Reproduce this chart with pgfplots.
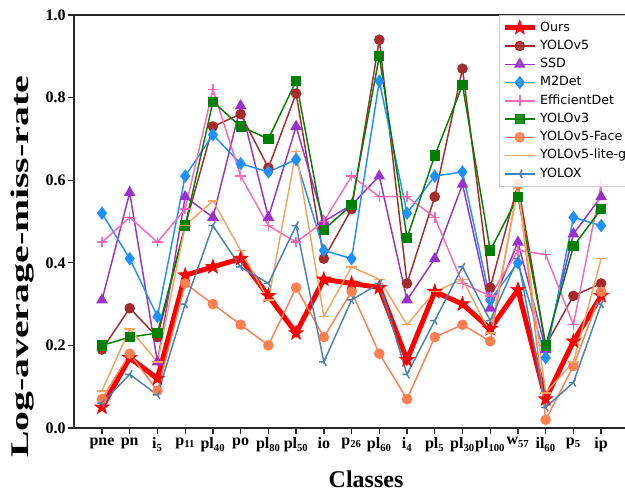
\documentclass[border=0pt]{standalone}
\usepackage{fontspec}
\setmainfont{Liberation Serif}
\newfontfamily\legfont{DejaVu Sans}
\usepackage{pgfplots}
\usepackage{pgfplotstable}
\pgfplotsset{compat=1.18}
\definecolor{cbrown}{HTML}{A52A2A}
\definecolor{corchid}{HTML}{9932CC}
\definecolor{cdodger}{HTML}{1E90FF}
\definecolor{chotpink}{HTML}{FF69B4}
\definecolor{cgreen}{HTML}{008000}
\definecolor{ccoral}{HTML}{FF7F50}
\definecolor{csandy}{HTML}{F4A460}
\definecolor{csteel}{HTML}{4682B4}
\pgfdeclareplotmark{fstar}{%
  \pgfpathmoveto{\pgfpointpolar{90}{\pgfplotmarksize}}%
  \pgfpathlineto{\pgfpointpolar{126}{0.4\pgfplotmarksize}}%
  \pgfpathlineto{\pgfpointpolar{162}{\pgfplotmarksize}}%
  \pgfpathlineto{\pgfpointpolar{198}{0.4\pgfplotmarksize}}%
  \pgfpathlineto{\pgfpointpolar{234}{\pgfplotmarksize}}%
  \pgfpathlineto{\pgfpointpolar{270}{0.4\pgfplotmarksize}}%
  \pgfpathlineto{\pgfpointpolar{306}{\pgfplotmarksize}}%
  \pgfpathlineto{\pgfpointpolar{342}{0.4\pgfplotmarksize}}%
  \pgfpathlineto{\pgfpointpolar{18}{\pgfplotmarksize}}%
  \pgfpathlineto{\pgfpointpolar{54}{0.4\pgfplotmarksize}}%
  \pgfpathclose
  \pgfusepathqfillstroke}
\pgfplotstableread{
x ours yolov5 ssd m2det effdet yolov3 face lite yolox
0 0.05 0.19 0.31 0.52 0.45 0.20 0.07 0.09 0.06
1 0.17 0.29 0.57 0.41 0.51 0.22 0.18 0.24 0.13
2 0.12 0.22 0.16 0.27 0.45 0.23 0.09 0.16 0.08
3 0.37 0.49 0.56 0.61 0.53 0.49 0.35 0.49 0.30
4 0.39 0.73 0.51 0.71 0.82 0.79 0.30 0.55 0.49
5 0.41 0.76 0.78 0.64 0.61 0.73 0.25 0.43 0.39
6 0.32 0.63 0.51 0.62 0.49 0.70 0.20 0.31 0.35
7 0.23 0.81 0.73 0.65 0.45 0.84 0.34 0.67 0.49
8 0.36 0.41 0.50 0.43 0.50 0.48 0.22 0.27 0.16
9 0.35 0.53 0.54 0.41 0.61 0.54 0.33 0.39 0.31
10 0.34 0.94 0.61 0.84 0.56 0.90 0.18 0.36 0.35
11 0.165 0.35 0.31 0.52 0.56 0.46 0.07 0.25 0.13
12 0.33 0.56 0.41 0.61 0.51 0.66 0.22 0.33 0.26
13 0.30 0.87 0.59 0.62 0.35 0.83 0.25 0.36 0.39
14 0.24 0.34 0.29 0.31 0.32 0.43 0.21 0.23 0.26
15 0.335 0.59 0.45 0.40 0.43 0.56 0.59 0.58 0.41
16 0.07 0.20 0.19 0.17 0.42 0.20 0.02 0.085 0.05
17 0.21 0.32 0.47 0.51 0.25 0.44 0.15 0.16 0.11
18 0.32 0.35 0.56 0.49 0.59 0.53 0.33 0.41 0.30
}\datatable
\begin{document}
\begin{tikzpicture}
\useasboundingbox (-55.5pt,-51pt) rectangle (413.25pt,321pt);
\begin{axis}[
  at={(0,0)}, anchor=south west,
  scale only axis, width=413.25pt, height=309.75pt,
  xmin=-1.01, xmax=18.86, ymin=0, ymax=1,
  axis x line*=bottom, axis y line*=left,
  axis line style={black!85, line width=1.1pt},
  tick align=outside, major tick length=4.5pt,
  every tick/.style={black!85, line width=1pt},
  xtick={0,...,18},
  xticklabels={pne,pn,i\textsubscript{5},p\textsubscript{11},pl\textsubscript{40},po,pl\textsubscript{80},pl\textsubscript{50},io,p\textsubscript{26},pl\textsubscript{60},i\textsubscript{4},pl\textsubscript{5},pl\textsubscript{30},pl\textsubscript{100},w\textsubscript{57},il\textsubscript{60},p\textsubscript{5},ip},
  ytick={0,0.2,0.4,0.6,0.8,1.0},
  yticklabel style={/pgf/number format/fixed, /pgf/number format/fixed zerofill, /pgf/number format/precision=1, /pgf/number format/assume math mode=true},
  tick label style={font=\fontsize{12}{14}\selectfont\bfseries},
  xticklabel style={inner sep=1pt, yshift=-1.5pt},
  yticklabel style={inner sep=1.5pt},
  xlabel={Classes}, ylabel={Log-average-miss-rate},
  xlabel style={font=\fontsize{18}{20}\selectfont\bfseries, at={(axis description cs:0.53,0)}, anchor=base, yshift=-45pt},
  ylabel style={font=\fontsize{19}{21}\selectfont\bfseries, at={(axis description cs:0,0.39)}, anchor=base, yshift=34pt, xscale=1.57},
  legend style={at={(0.772,1)}, anchor=north west, draw=black!20, fill=white, fill opacity=0.85, text opacity=1,
    font=\legfont\fontsize{9.5}{11}\selectfont, inner xsep=2pt, inner ysep=2.5pt, row sep=0pt,
    nodes={inner sep=2.1pt, text height=7.3pt, text depth=2.2pt, anchor=west}},
  legend cell align=left,
  legend image code/.code={\draw[mark repeat=2,mark phase=2,#1] plot coordinates {(0pt,0pt) (11.25pt,0pt) (22.5pt,0pt)};},
  every axis plot/.append style={line width=1.1pt},
]
\addplot[color=red, line width=3.75pt, mark=fstar, mark size=5.5pt, mark options={solid, line width=0.6pt}] table[x=x,y=ours] {\datatable};
\addlegendentry{Ours}
\addplot[color=cbrown, mark=*, mark size=3.4pt] table[x=x,y=yolov5] {\datatable};
\addlegendentry{YOLOv5}
\addplot[color=corchid, mark=triangle*, mark size=4pt] table[x=x,y=ssd] {\datatable};
\addlegendentry{SSD}
\addplot[color=cdodger, mark=diamond*, mark size=4.2pt] table[x=x,y=m2det] {\datatable};
\addlegendentry{M2Det}
\addplot[color=chotpink, mark=+, mark size=4pt] table[x=x,y=effdet] {\datatable};
\addlegendentry{EfficientDet}
\addplot[color=cgreen, mark=square*, mark size=3.3pt] table[x=x,y=yolov3] {\datatable};
\addlegendentry{YOLOv3}
\addplot[color=ccoral, mark=*, mark size=3.4pt] table[x=x,y=face] {\datatable};
\addlegendentry{YOLOv5-Face}
\addplot[color=csandy, mark=-, mark size=4pt] table[x=x,y=lite] {\datatable};
\addlegendentry{YOLOv5-lite-g}
\addplot[color=csteel, mark=Mercedes star, mark size=3.5pt, mark options={rotate=90}] table[x=x,y=yolox] {\datatable};
\addlegendentry{YOLOX}
\draw[black!85, line width=1.1pt] (rel axis cs:0,1) -- (rel axis cs:1,1);
\end{axis}
\end{tikzpicture}
\end{document}
